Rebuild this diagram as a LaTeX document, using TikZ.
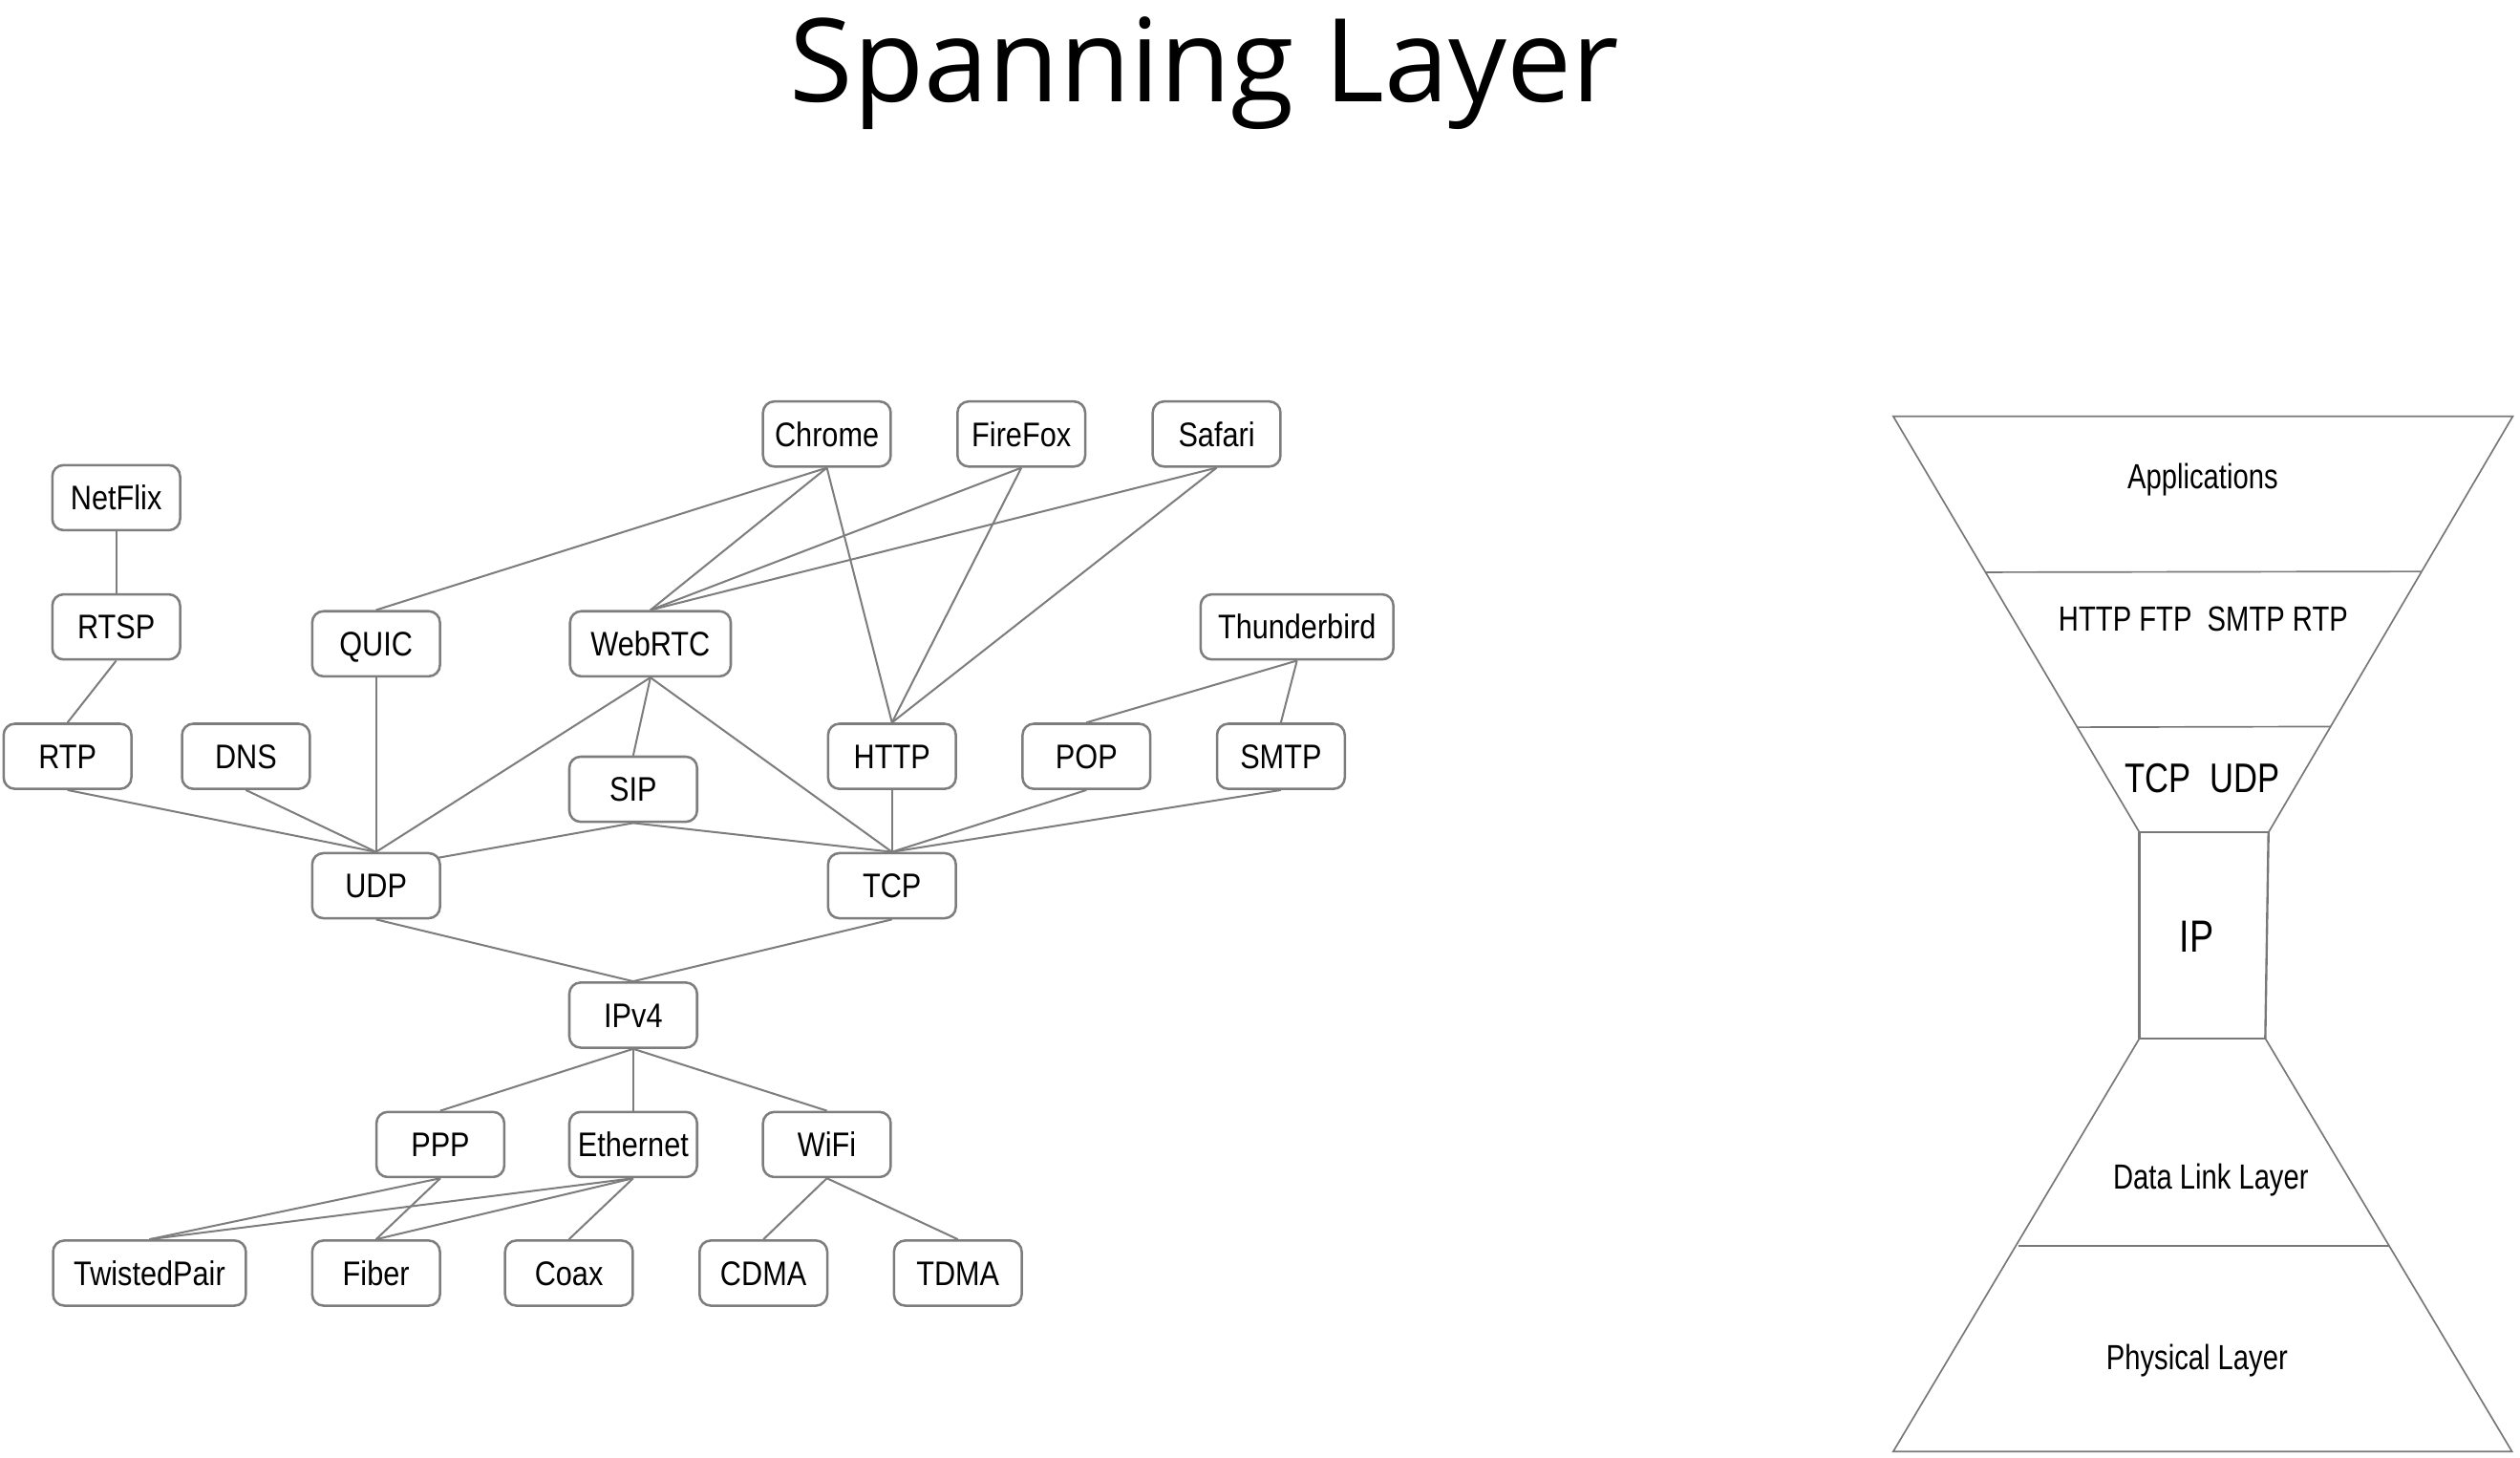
\documentclass[tikz,border=0pt]{standalone}
\usepackage{fontspec}
\setmainfont{Liberation Sans}
\newfontfamily\nodefont[FakeStretch=0.86]{Liberation Sans}
\newfontfamily\layerfont[FakeStretch=0.8]{Liberation Sans}
\newfontfamily\titlefont{Open Sans}
\usetikzlibrary{backgrounds,calc}
\definecolor{linegray}{RGB}{125,125,125}
\definecolor{hggray}{RGB}{120,120,120}
\begin{document}
\begin{tikzpicture}[x=1pt,y=-1pt,
  nbox/.style={draw=linegray, line width=1.5pt, rounded corners=7pt, fill=white,
    minimum width=79.5pt, minimum height=40.5pt, inner sep=0pt,
    font=\nodefont\fontsize{21.2}{25}\selectfont, text height=15.2pt, text depth=0pt},
  widebox/.style={minimum width=100pt},
  widerbox/.style={minimum width=120pt},
  link/.style={draw=linegray, line width=1.2pt},
  layerlabel/.style={font=\layerfont\fontsize{21.7}{25}\selectfont, anchor=base, inner sep=0pt},
  hgline/.style={draw=hggray, line width=1pt},
  hgthick/.style={draw=hggray, line width=1.4pt}
]
\useasboundingbox (0,0) rectangle (1568,907);

% title
\node[anchor=base, inner sep=0pt, font=\titlefont\fontsize{72}{80}\selectfont] (title) at (749.5,63.6) {Spanning Layer};

% nodes
\node[nbox] (Chrome) at (514.5,270) {Chrome};
\node[nbox] (FireFox) at (635.5,270) {FireFox};
\node[nbox] (Safari) at (757,270) {Safari};
\node[nbox] (NetFlix) at (72.3,309.6) {NetFlix};
\node[nbox] (RTSP) at (72.3,390) {RTSP};
\node[nbox] (QUIC) at (234,400.5) {QUIC};
\node[nbox,widebox] (WebRTC) at (404.7,400.5) {WebRTC};
\node[nbox,widerbox] (Thunderbird) at (807,390) {Thunderbird};
\node[nbox] (RTP) at (42,470.5) {RTP};
\node[nbox] (DNS) at (153,470.5) {DNS};
\node[nbox] (SIP) at (394,491) {SIP};
\node[nbox] (HTTP) at (555,470.5) {HTTP};
\node[nbox] (POP) at (676,470.5) {POP};
\node[nbox] (SMTP) at (797,470.5) {SMTP};
\node[nbox] (UDP) at (234,551) {UDP};
\node[nbox] (TCP) at (555,551) {TCP};
\node[nbox] (IPv4) at (394,631.5) {IPv4};
\node[nbox] (PPP) at (274,712) {PPP};
\node[nbox] (Ethernet) at (394,712) {Ethernet};
\node[nbox] (WiFi) at (514.5,712) {WiFi};
\node[nbox,widerbox] (TwistedPair) at (93,792) {TwistedPair};
\node[nbox] (Fiber) at (234,792) {Fiber};
\node[nbox] (Coax) at (354,792) {Coax};
\node[nbox] (CDMA) at (475,792) {CDMA};
\node[nbox] (TDMA) at (596,792) {TDMA};

% connectors
\begin{pgfonlayer}{background}
\draw[link] (NetFlix.south) -- (RTSP.north);
\draw[link] (RTSP.south) -- (RTP.north);
\draw[link] (Chrome.south) -- (QUIC.north);
\draw[link] (Chrome.south) -- (WebRTC.north);
\draw[link] (Chrome.south) -- (HTTP.north);
\draw[link] (FireFox.south) -- (WebRTC.north);
\draw[link] (FireFox.south) -- (HTTP.north);
\draw[link] (Safari.south) -- (WebRTC.north);
\draw[link] (Safari.south) -- (HTTP.north);
\draw[link] (Thunderbird.south) -- (POP.north);
\draw[link] (Thunderbird.south) -- (SMTP.north);
\draw[link] (QUIC.south) -- (UDP.north);
\draw[link] (WebRTC.south) -- (UDP.north);
\draw[link] (WebRTC.south) -- (SIP.north);
\draw[link] (WebRTC.south) -- (TCP.north);
\draw[link] (RTP.south) -- (UDP.north);
\draw[link] (DNS.south) -- (UDP.north);
\draw[link] (SIP.south) -- ($(UDP.north east)+(-4,4)$);
\draw[link] (SIP.south) -- (TCP.north);
\draw[link] (HTTP.south) -- (TCP.north);
\draw[link] (POP.south) -- (TCP.north);
\draw[link] (SMTP.south) -- (TCP.north);
\draw[link] (UDP.south) -- (IPv4.north);
\draw[link] (TCP.south) -- (IPv4.north);
\draw[link] (IPv4.south) -- (PPP.north);
\draw[link] (IPv4.south) -- (Ethernet.north);
\draw[link] (IPv4.south) -- (WiFi.north);
\draw[link] (PPP.south) -- (TwistedPair.north);
\draw[link] (PPP.south) -- (Fiber.north);
\draw[link] (Ethernet.south) -- (TwistedPair.north);
\draw[link] (Ethernet.south) -- (Fiber.north);
\draw[link] (Ethernet.south) -- (Coax.north);
\draw[link] (WiFi.south) -- (CDMA.north);
\draw[link] (WiFi.south) -- (TDMA.north);
\end{pgfonlayer}

% hourglass
\draw[hgline] (1331.2,517.8) -- (1178,259) -- (1563.5,259) -- (1411.5,517.8);
\draw[hgline] (1235.8,356) -- (1506.5,355.5);
\draw[hgline] (1292.8,452.4) -- (1449.9,452);
\draw[hgline] (1331.2,517.8) -- (1411.5,517.8);
\draw[hgthick] (1331.2,517.8) -- (1331.2,646);
\draw[hgthick] (1411.5,517.8) -- (1409.5,646);
\draw[hgline] (1331.2,646) -- (1409.5,646);
\draw[hgline] (1331.2,646) -- (1178,903) -- (1563,903) -- (1409.5,646);
\draw[hgline] (1256,775) -- (1486.5,775);

\node[layerlabel] (lapp) at (1370.6,304.1) {Applications};
\node[layerlabel] (lproto) at (1370.9,392.3) {HTTP FTP\ \ SMTP RTP};
\node[layerlabel, font=\layerfont\fontsize{25.7}{30}\selectfont] (ltrans) at (1370.3,493.3) {TCP\ \ UDP};
\node[layerlabel, font=\layerfont\fontsize{28}{32}\selectfont] (lip) at (1366.8,592.4) {IP};
\node[layerlabel] (llink) at (1375.6,739.8) {Data Link Layer};
\node[layerlabel] (lphys) at (1367,851.8) {Physical Layer};
\end{tikzpicture}
\end{document}
